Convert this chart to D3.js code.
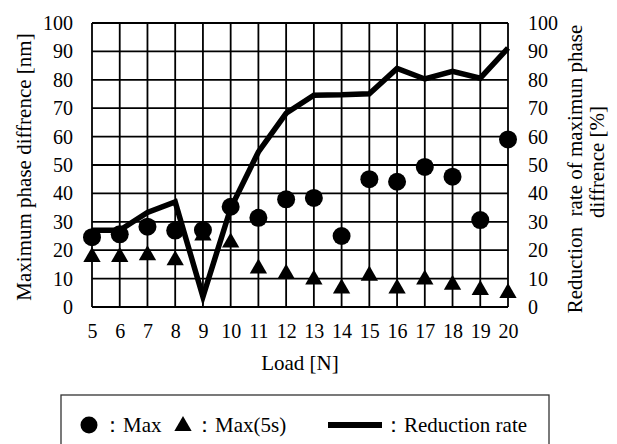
<!DOCTYPE html>
<html>
<head>
<meta charset="utf-8">
<script src="https://cdn.jsdelivr.net/npm/d3@7"></script>
</head>
<body style="margin:0; background:#fff">
<div id="plot"></div>
<script>
// data
const loads = [5, 6, 7, 8, 9, 10, 11, 12, 13, 14, 15, 16, 17, 18, 19, 20];
const maxVals = [24.6, 25.6, 28.3, 26.9, 27.1, 35.3, 31.4, 37.9, 38.4, 25.0, 45.0, 44.1, 49.3, 45.9, 30.6, 59.0];
const max5sVals = [18.0, 18.0, 18.6, 16.8, 25.5, 23.1, 13.9, 12.1, 10.0, 6.9, 11.4, 6.9, 10.0, 8.2, 6.3, 5.3];
const reductionVals = [27.0, 27.0, 33.3, 37.0, 3.6, 34.8, 54.6, 68.2, 74.6, 74.7, 75.1, 84.0, 80.3, 83.0, 80.6, 91.2];
const yTicks = [0, 10, 20, 30, 40, 50, 60, 70, 80, 90, 100];

const W = 617, H = 444;
const plotL = 92, plotR = 508, plotT = 23, plotB = 307;
const serif = "Liberation Serif";

const svg = d3.select("#plot")
  .append("svg")
  .attr("width", W)
  .attr("height", H);

const x = d3.scaleLinear().domain([5, 20]).range([plotL, plotR]);
const y = d3.scaleLinear().domain([0, 100]).range([plotB, plotT]);
const y2 = d3.scaleLinear().domain([0, 100]).range([plotB, plotT]);

// grid
svg.append("g")
  .selectAll("line")
  .data(loads)
  .enter()
  .append("line")
  .attr("x1", d => x(d)).attr("x2", d => x(d))
  .attr("y1", plotT).attr("y2", plotB)
  .attr("stroke", "#000").attr("stroke-width", 1.8);

svg.append("g")
  .selectAll("line")
  .data(yTicks)
  .enter()
  .append("line")
  .attr("x1", plotL).attr("x2", plotR)
  .attr("y1", d => y(d)).attr("y2", d => y(d))
  .attr("stroke", "#000").attr("stroke-width", 1.8);

// axes (labels only, no tick marks)
function styleAxis(g) {
  g.select(".domain").remove();
  g.attr("font-family", serif);
  g.selectAll("text")
    .attr("font-family", serif)
    .attr("font-size", 20)
    .attr("fill", "#000");
}

svg.append("g")
  .attr("transform", `translate(${plotL},0)`)
  .call(d3.axisLeft(y).tickValues(yTicks).tickSize(0).tickPadding(19))
  .call(styleAxis);

svg.append("g")
  .attr("transform", `translate(${plotR},0)`)
  .call(d3.axisRight(y2).tickValues(yTicks).tickSize(0).tickPadding(20))
  .call(styleAxis);

svg.append("g")
  .attr("transform", `translate(0,${plotB})`)
  .call(d3.axisBottom(x).tickValues(loads).tickFormat(d3.format("d")).tickSize(0).tickPadding(17))
  .call(styleAxis);

// axis titles
function label(sel) {
  return sel.attr("font-family", serif).attr("font-size", 21).attr("fill", "#000");
}

svg.append("text")
  .attr("transform", "translate(31,167) rotate(-90)")
  .attr("text-anchor", "middle")
  .call(label)
  .text("Maximum phase diffrence [nm]");

svg.append("text")
  .attr("transform", "translate(582,169) rotate(-90)")
  .attr("text-anchor", "middle")
  .style("white-space", "pre")
  .call(label)
  .text("Reduction  rate of maximun phase");

svg.append("text")
  .attr("transform", "translate(604,162) rotate(-90)")
  .attr("text-anchor", "middle")
  .call(label)
  .text("diffrence [%]");

svg.append("text")
  .attr("x", 300)
  .attr("y", 370)
  .attr("text-anchor", "middle")
  .call(label)
  .text("Load [N]");

// reduction rate line
const line = d3.line()
  .x((d, i) => x(loads[i]))
  .y(d => y2(d));

svg.append("path")
  .datum(reductionVals)
  .attr("d", line)
  .attr("fill", "none")
  .attr("stroke", "#000")
  .attr("stroke-width", 5.5)
  .attr("stroke-linejoin", "miter");

// markers
const tri = d3.symbol().type(d3.symbolTriangle).size(130);

svg.append("g")
  .selectAll("path")
  .data(max5sVals)
  .enter()
  .append("path")
  .attr("d", tri)
  .attr("transform", (d, i) => `translate(${x(loads[i])},${y(d) + 1})`)
  .attr("fill", "#000");

svg.append("g")
  .selectAll("circle")
  .data(maxVals)
  .enter()
  .append("circle")
  .attr("cx", (d, i) => x(loads[i]))
  .attr("cy", d => y(d))
  .attr("r", 9)
  .attr("fill", "#000");

// legend
const lg = svg.append("g");
lg.append("rect")
  .attr("x", 61).attr("y", 395)
  .attr("width", 488).attr("height", 60)
  .attr("fill", "#fff")
  .attr("stroke", "#333").attr("stroke-width", 1.3);

const ly = 425;
lg.append("circle").attr("cx", 89).attr("cy", ly).attr("r", 8.5).attr("fill", "#000");
lg.append("text").attr("x", 102).attr("y", ly + 7).call(label).text("：Max");
lg.append("path").attr("d", tri).attr("transform", `translate(183,${ly + 1})`).attr("fill", "#000");
lg.append("text").attr("x", 194).attr("y", ly + 7).call(label).text("：Max(5s)");
lg.append("line")
  .attr("x1", 328).attr("x2", 382)
  .attr("y1", ly).attr("y2", ly)
  .attr("stroke", "#000").attr("stroke-width", 6);
lg.append("text").attr("x", 383).attr("y", ly + 7).call(label).text("：Reduction rate");
</script>
</body>
</html>
